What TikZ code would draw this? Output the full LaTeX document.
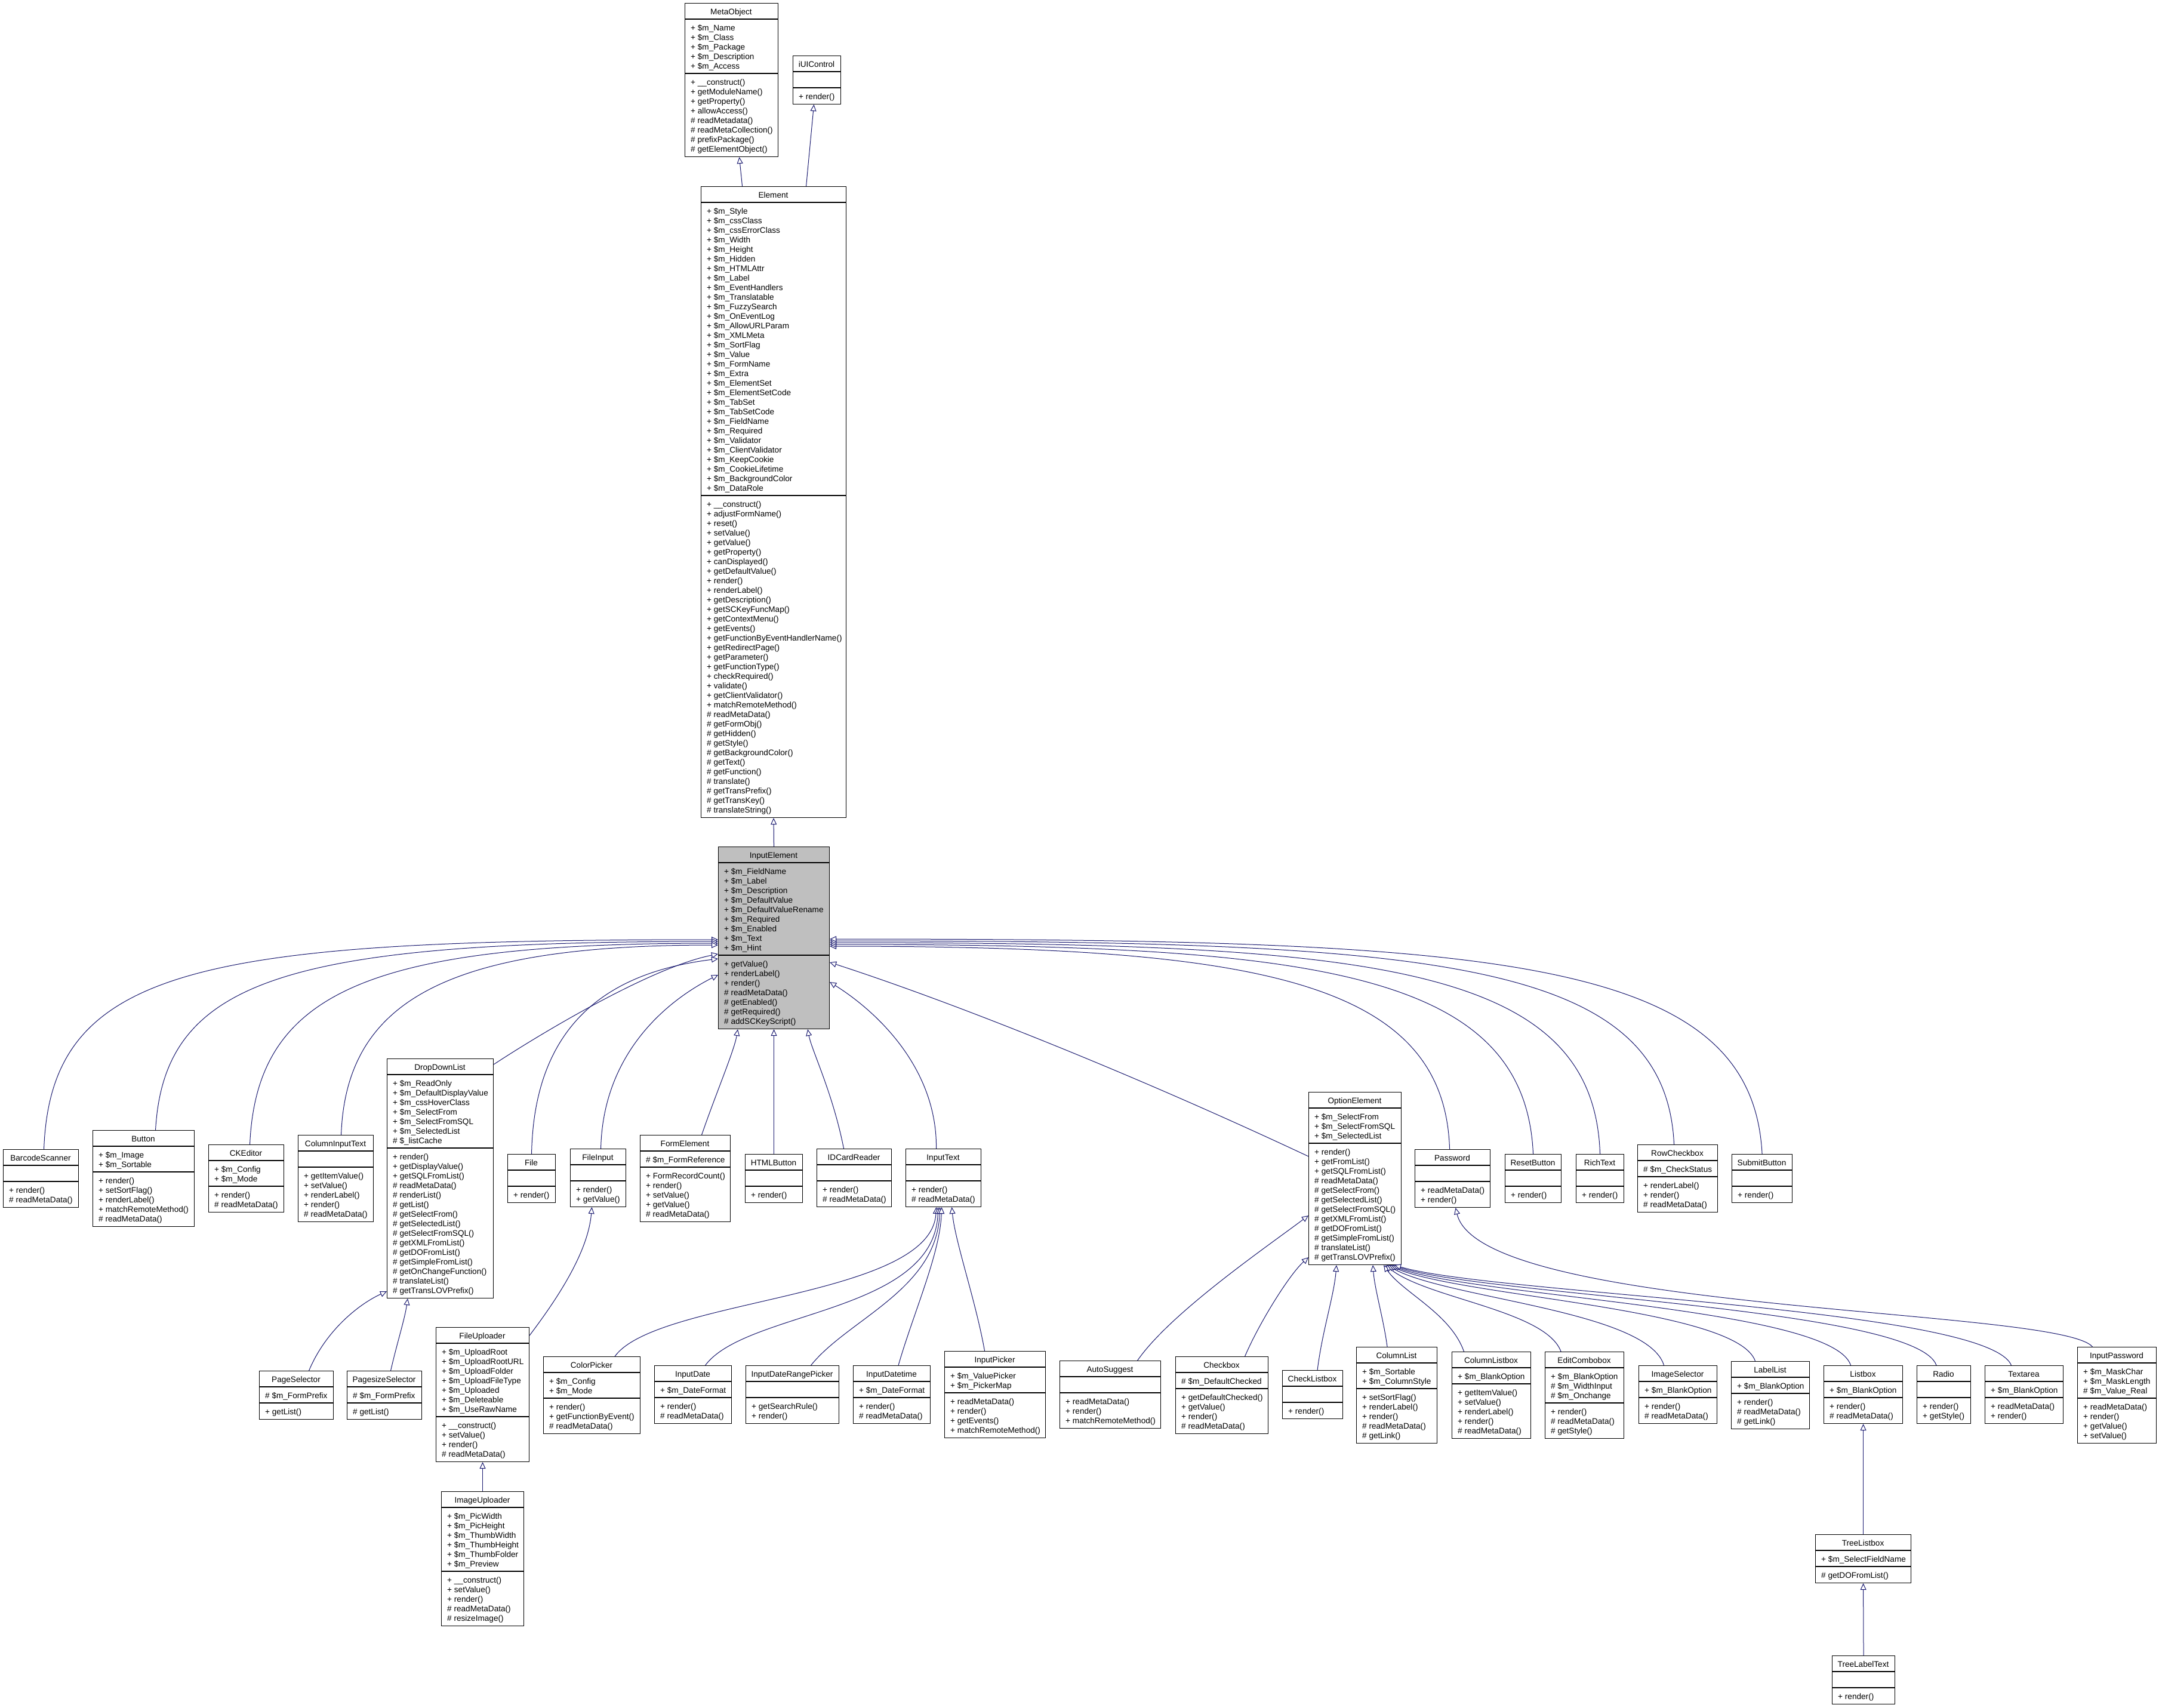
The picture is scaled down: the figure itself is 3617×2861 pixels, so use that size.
\documentclass[tikz,border=0pt]{standalone}
\usepackage{fontspec}
\setmainfont{Liberation Sans}
\usetikzlibrary{arrows.meta}

\definecolor{edgeblue}{HTML}{191970}
\definecolor{basegray}{HTML}{BFBFBF}

\newcommand\umlfont{\fontsize{13.6}{16}\selectfont}

\tikzset{
  classbox/.style={draw=black, line width=1.1pt, inner sep=0pt, rectangle},
  classline/.style={draw=black, line width=1.1pt},
  classtext/.style={inner sep=0pt, font=\umlfont},
  inherit/.style={draw=edgeblue, line width=1pt,
    -{Triangle[length=11pt,width=10pt,fill=white]}},
}

% number of entries of a comma list (at least one, for the compartment height)
\newcount\umlcnt
\newcommand\umlcount[1]{%
  \global\umlcnt=0
  \if\relax\detokenize{#1}\relax\else
    \foreach \umlitem in {#1}{\global\advance\umlcnt by 1 }%
  \fi
  \ifnum\umlcnt<1 \global\umlcnt=1 \fi}

% class box: [fill]{name}{left}{top}{width}{title}{attributes}{operations}
\newcommand\umlclass[8][white]{%
  \umlcount{#7}\edef\umlna{\the\umlcnt}%
  \umlcount{#8}\edef\umlnm{\the\umlcnt}%
  \pgfmathsetmacro\umlya{#4+27}%
  \pgfmathsetmacro\umlym{#4+38+16*\umlna}%
  \pgfmathsetmacro\umlh{49+16*\umlna+16*\umlnm}%
  \node[classbox,fill=#1,minimum width=#5pt,minimum height=\umlh pt,anchor=north west] (#2) at (#3,#4) {};
  \draw[classline] (#3,\umlya) -- ++(#5,0);
  \draw[classline] (#3,\umlym) -- ++(#5,0);
  \node[classtext,anchor=base] (#2-name) at ({#3+#5/2},{#4+19.5}) {#6};
  \if\relax\detokenize{#7}\relax\else
    \foreach \umlitem [count=\umli from 0] in {#7}{%
      \node[classtext,anchor=base west] (#2-a\umli) at ({#3+10},{\umlya+19.5+16*\umli}) {\umlitem};}%
  \fi
  \if\relax\detokenize{#8}\relax\else
    \foreach \umlitem [count=\umli from 0] in {#8}{%
      \node[classtext,anchor=base west] (#2-o\umli) at ({#3+10},{\umlym+19.5+16*\umli}) {\umlitem};}%
  \fi
}

\begin{document}
\begin{tikzpicture}[x=1pt,y=-1pt]
\fill[white] (0,0) rectangle (3617,2861);
\useasboundingbox (0,0) rectangle (3617,2861);

% ---------- base classes ----------
\umlclass{mo}{1147}{5}{156}{MetaObject}
 {+ \$m\_Name,+ \$m\_Class,+ \$m\_Package,+ \$m\_Description,+ \$m\_Access}
 {+ \_\_construct(),+ getModuleName(),+ getProperty(),+ allowAccess(),\# readMetadata(),\# readMetaCollection(),\# prefixPackage(),\# getElementObject()}
\umlclass{uic}{1328}{93}{80}{iUIControl}{}{+ render()}

\umlclass{el}{1174}{312}{243}{Element}
 {+ \$m\_Style,+ \$m\_cssClass,+ \$m\_cssErrorClass,+ \$m\_Width,+ \$m\_Height,+ \$m\_Hidden,+ \$m\_HTMLAttr,+ \$m\_Label,+ \$m\_EventHandlers,+ \$m\_Translatable,+ \$m\_FuzzySearch,+ \$m\_OnEventLog,+ \$m\_AllowURLParam,+ \$m\_XMLMeta,+ \$m\_SortFlag,+ \$m\_Value,+ \$m\_FormName,+ \$m\_Extra,+ \$m\_ElementSet,+ \$m\_ElementSetCode,+ \$m\_TabSet,+ \$m\_TabSetCode,+ \$m\_FieldName,+ \$m\_Required,+ \$m\_Validator,+ \$m\_ClientValidator,+ \$m\_KeepCookie,+ \$m\_CookieLifetime,+ \$m\_BackgroundColor,+ \$m\_DataRole}
 {+ \_\_construct(),+ adjustFormName(),+ reset(),+ setValue(),+ getValue(),+ getProperty(),+ canDisplayed(),+ getDefaultValue(),+ render(),+ renderLabel(),+ getDescription(),+ getSCKeyFuncMap(),+ getContextMenu(),+ getEvents(),+ getFunctionByEventHandlerName(),+ getRedirectPage(),+ getParameter(),+ getFunctionType(),+ checkRequired(),+ validate(),+ getClientValidator(),+ matchRemoteMethod(),\# readMetaData(),\# getFormObj(),\# getHidden(),\# getStyle(),\# getBackgroundColor(),\# getText(),\# getFunction(),\# translate(),\# getTransPrefix(),\# getTransKey(),\# translateString()}

\umlclass[basegray]{ie}{1203}{1418}{186}{InputElement}
 {+ \$m\_FieldName,+ \$m\_Label,+ \$m\_Description,+ \$m\_DefaultValue,+ \$m\_DefaultValueRename,+ \$m\_Required,+ \$m\_Enabled,+ \$m\_Text,+ \$m\_Hint}
 {+ getValue(),+ renderLabel(),+ render(),\# readMetaData(),\# getEnabled(),\# getRequired(),\# addSCKeyScript()}

% ---------- direct subclasses of InputElement ----------
\umlclass{bs}{5}{1925}{126}{BarcodeScanner}{}{+ render(),\# readMetaData()}
\umlclass{btn}{155}{1893}{170}{Button}{+ \$m\_Image,+ \$m\_Sortable}
 {+ render(),+ setSortFlag(),+ renderLabel(),+ matchRemoteMethod(),\# readMetaData()}
\umlclass{cke}{349}{1917}{126}{CKEditor}{+ \$m\_Config,+ \$m\_Mode}{+ render(),\# readMetaData()}
\umlclass{cit}{499}{1901}{126}{ColumnInputText}{}
 {+ getItemValue(),+ setValue(),+ renderLabel(),+ render(),\# readMetaData()}
\umlclass{ddl}{648}{1773}{178}{DropDownList}
 {+ \$m\_ReadOnly,+ \$m\_DefaultDisplayValue,+ \$m\_cssHoverClass,+ \$m\_SelectFrom,+ \$m\_SelectFromSQL,+ \$m\_SelectedList,\# \$\_listCache}
 {+ render(),+ getDisplayValue(),+ getSQLFromList(),\# readMetaData(),\# renderList(),\# getList(),\# getSelectFrom(),\# getSelectedList(),\# getSelectFromSQL(),\# getXMLFromList(),\# getDOFromList(),\# getSimpleFromList(),\# getOnChangeFunction(),\# translateList(),\# getTransLOVPrefix()}
\umlclass{file}{850}{1933}{80}{File}{}{+ render()}
\umlclass{fin}{955}{1924}{93}{FileInput}{}{+ render(),+ getValue()}
\umlclass{fe}{1072}{1901}{151}{FormElement}{\# \$m\_FormReference}
 {+ FormRecordCount(),+ render(),+ setValue(),+ getValue(),\# readMetaData()}
\umlclass{htb}{1248}{1933}{96}{HTMLButton}{}{+ render()}
\umlclass{idc}{1368}{1924}{125}{IDCardReader}{}{+ render(),\# readMetaData()}
\umlclass{it}{1517}{1924}{126}{InputText}{}{+ render(),\# readMetaData()}
\umlclass{oe}{2192}{1829}{155}{OptionElement}
 {+ \$m\_SelectFrom,+ \$m\_SelectFromSQL,+ \$m\_SelectedList}
 {+ render(),+ getFromList(),+ getSQLFromList(),\# readMetaData(),\# getSelectFrom(),\# getSelectedList(),\# getSelectFromSQL(),\# getXMLFromList(),\# getDOFromList(),\# getSimpleFromList(),\# translateList(),\# getTransLOVPrefix()}
\umlclass{pw}{2370}{1925}{126}{Password}{}{+ readMetaData(),+ render()}
\umlclass{rb}{2521}{1933}{94}{ResetButton}{}{+ render()}
\umlclass{rt}{2640}{1933}{80}{RichText}{}{+ render()}
\umlclass{rc}{2743}{1917}{134}{RowCheckbox}{\# \$m\_CheckStatus}
 {+ renderLabel(),+ render(),\# readMetaData()}
\umlclass{sb}{2901}{1933}{101}{SubmitButton}{}{+ render()}

% ---------- second level ----------
\umlclass{ps}{434}{2296}{124}{PageSelector}{\# \$m\_FormPrefix}{+ getList()}
\umlclass{pss}{581}{2296}{125}{PagesizeSelector}{\# \$m\_FormPrefix}{\# getList()}
\umlclass{fu}{730}{2223}{156}{FileUploader}
 {+ \$m\_UploadRoot,+ \$m\_UploadRootURL,+ \$m\_UploadFolder,+ \$m\_UploadFileType,+ \$m\_Uploaded,+ \$m\_Deleteable,+ \$m\_UseRawName}
 {+ \_\_construct(),+ setValue(),+ render(),\# readMetaData()}
\umlclass{iu}{739}{2498}{138}{ImageUploader}
 {+ \$m\_PicWidth,+ \$m\_PicHeight,+ \$m\_ThumbWidth,+ \$m\_ThumbHeight,+ \$m\_ThumbFolder,+ \$m\_Preview}
 {+ \_\_construct(),+ setValue(),+ render(),\# readMetaData(),\# resizeImage()}
\umlclass{cp}{910}{2272}{162}{ColorPicker}{+ \$m\_Config,+ \$m\_Mode}
 {+ render(),+ getFunctionByEvent(),\# readMetaData()}
\umlclass{idt}{1096}{2287}{129}{InputDate}{+ \$m\_DateFormat}{+ render(),\# readMetaData()}
\umlclass{idrp}{1249}{2287}{156}{InputDateRangePicker}{}{+ getSearchRule(),+ render()}
\umlclass{idtt}{1429}{2287}{129}{InputDatetime}{+ \$m\_DateFormat}{+ render(),\# readMetaData()}
\umlclass{ip}{1582}{2263}{169}{InputPicker}{+ \$m\_ValuePicker,+ \$m\_PickerMap}
 {+ readMetaData(),+ render(),+ getEvents(),+ matchRemoteMethod()}
\umlclass{as}{1775}{2279}{169}{AutoSuggest}{}{+ readMetaData(),+ render(),+ matchRemoteMethod()}
\umlclass{cb}{1969}{2272}{155}{Checkbox}{\# \$m\_DefaultChecked}
 {+ getDefaultChecked(),+ getValue(),+ render(),\# readMetaData()}
\umlclass{clb}{2148}{2295}{101}{CheckListbox}{}{+ render()}
\umlclass{cl}{2272}{2256}{135}{ColumnList}{+ \$m\_Sortable,+ \$m\_ColumnStyle}
 {+ setSortFlag(),+ renderLabel(),+ render(),\# readMetaData(),\# getLink()}
\umlclass{clbx}{2432}{2264}{132}{ColumnListbox}{+ \$m\_BlankOption}
 {+ getItemValue(),+ setValue(),+ renderLabel(),+ render(),\# readMetaData()}
\umlclass{ecb}{2588}{2264}{132}{EditCombobox}{+ \$m\_BlankOption,\# \$m\_WidthInput,\# \$m\_Onchange}
 {+ render(),\# readMetaData(),\# getStyle()}
\umlclass{isel}{2745}{2287}{131}{ImageSelector}{+ \$m\_BlankOption}{+ render(),\# readMetaData()}
\umlclass{ll}{2900}{2280}{131}{LabelList}{+ \$m\_BlankOption}{+ render(),\# readMetaData(),\# getLink()}
\umlclass{lb}{3055}{2287}{132}{Listbox}{+ \$m\_BlankOption}{+ render(),\# readMetaData()}
\umlclass{rad}{3211}{2287}{90}{Radio}{}{+ render(),+ getStyle()}
\umlclass{ta}{3325}{2287}{131}{Textarea}{+ \$m\_BlankOption}{+ readMetaData(),+ render()}
\umlclass{ipw}{3480}{2256}{132}{InputPassword}{+ \$m\_MaskChar,+ \$m\_MaskLength,\# \$m\_Value\_Real}
 {+ readMetaData(),+ render(),+ getValue(),+ setValue()}
\umlclass{tlb}{3041}{2570}{160}{TreeListbox}{+ \$m\_SelectFieldName}{\# getDOFromList()}
\umlclass{tlt}{3069}{2773}{105}{TreeLabelText}{}{+ render()}

% ---------- generalisation arrows ----------
\draw[inherit] ([xshift=-52.5pt]el.north) -- ([xshift=13pt]mo.south);
\draw[inherit] ([xshift=54.5pt]el.north) -- ([xshift=-5pt]uic.south);
\draw[inherit] (ie.north) -- (el.south);

% left side of InputElement
\draw[inherit] ([xshift=5pt]bs.north) .. controls (85,1620) and (330,1574) .. ([yshift=-156pt]ie.north west);
\draw[inherit] ([xshift=20pt]btn.north) .. controls (275,1640) and (480,1577) .. ([yshift=-159pt]ie.north west);
\draw[inherit] ([xshift=6pt]cke.north) .. controls (430,1660) and (620,1580) .. ([yshift=-162pt]ie.north west);
\draw[inherit] ([xshift=9pt]cit.north) .. controls (580,1670) and (760,1583) .. ([yshift=-165pt]ie.north west);
\draw[inherit] ([yshift=-10pt]ddl.north east) .. controls (900,1735) and (1090,1620) .. ([yshift=-180pt]ie.north west);
\draw[inherit] (file.north) .. controls (895,1690) and (1050,1625) .. ([yshift=-188pt]ie.north west);
\draw[inherit] ([xshift=4.5pt]fin.north) .. controls (1010,1770) and (1110,1680) .. ([yshift=-215pt]ie.north west);

% bottom of InputElement
\draw[inherit] ([xshift=27.5pt]fe.north) .. controls (1200,1830) and (1230,1760) .. ([xshift=33pt]ie.south west);
\draw[inherit] (htb.north) -- (ie.south);
\draw[inherit] ([xshift=-17.5pt]idc.north) .. controls (1395,1830) and (1360,1760) .. ([xshift=-37pt]ie.south east);

% right side of InputElement
\draw[inherit] ([xshift=-12pt]it.north) .. controls (1570,1790) and (1470,1695) .. ([yshift=-227pt]ie.north east);
\draw[inherit] ([yshift=-108pt]oe.north west) .. controls (1900,1800) and (1600,1680) .. ([yshift=-194pt]ie.north east);
\draw[inherit] ([xshift=-5pt]pw.north) .. controls (2420,1640) and (2100,1585) .. ([yshift=-167pt]ie.north east);
\draw[inherit] (rb.north) .. controls (2555,1625) and (2200,1582) .. ([yshift=-164pt]ie.north east);
\draw[inherit] (rt.north) .. controls (2670,1615) and (2300,1579) .. ([yshift=-161pt]ie.north east);
\draw[inherit] ([xshift=-6pt]rc.north) .. controls (2790,1605) and (2400,1576) .. ([yshift=-158pt]ie.north east);
\draw[inherit] (sb.north) .. controls (2935,1600) and (2500,1573) .. ([yshift=-155pt]ie.north east);

% DropDownList and FileInput families
\draw[inherit] ([xshift=21pt]ps.north) .. controls (545,2230) and (600,2185) .. ([yshift=12pt]ddl.south west);
\draw[inherit] ([xshift=10.5pt]pss.north) .. controls (665,2250) and (678,2210) .. ([xshift=35pt]ddl.south west);
\draw[inherit] ([yshift=-14pt]fu.north east) .. controls (930,2180) and (985,2100) .. ([xshift=-10.5pt]fin.south);
\draw[inherit] (iu.north) -- (fu.south);

% InputText family
\draw[inherit] ([xshift=38.5pt]cp.north) .. controls (1100,2175) and (1560,2175) .. ([xshift=-12pt]it.south);
\draw[inherit] ([xshift=20.5pt]idt.north) .. controls (1250,2195) and (1566,2200) .. ([xshift=-9pt]it.south);
\draw[inherit] ([xshift=31pt]idrp.north) .. controls (1420,2210) and (1570,2160) .. ([xshift=-6pt]it.south);
\draw[inherit] ([xshift=11pt]idtt.north) .. controls (1530,2200) and (1575,2100) .. ([xshift=-3pt]it.south);
\draw[inherit] ([xshift=-17.5pt]ip.north) .. controls (1635,2180) and (1600,2080) .. ([xshift=14pt]it.south);

% OptionElement family
\draw[inherit] ([xshift=45.5pt]as.north) .. controls (1960,2200) and (2120,2090) .. ([yshift=83pt]oe.south west);
\draw[inherit] ([xshift=38.5pt]cb.north) .. controls (2110,2215) and (2160,2135) .. ([yshift=13pt]oe.south west);
\draw[inherit] ([xshift=8pt]clb.north) .. controls (2215,2230) and (2235,2170) .. ([xshift=47pt]oe.south west);
\draw[inherit] ([xshift=-16pt]cl.north) .. controls (2318,2210) and (2303,2160) .. ([xshift=108pt]oe.south west);
\draw[inherit] ([xshift=-46pt]clbx.north) .. controls (2430,2200) and (2350,2165) .. ([xshift=126pt]oe.south west);
\draw[inherit] ([xshift=-39.5pt]ecb.north) .. controls (2590,2195) and (2390,2175) .. ([xshift=129pt]oe.south west);
\draw[inherit] ([xshift=-23.5pt]isel.north) .. controls (2760,2195) and (2420,2175) .. ([xshift=132pt]oe.south west);
\draw[inherit] ([xshift=-25.5pt]ll.north) .. controls (2910,2190) and (2440,2172) .. ([xshift=135pt]oe.south west);
\draw[inherit] ([xshift=-21pt]lb.north) .. controls (3070,2190) and (2460,2172) .. ([xshift=138pt]oe.south west);
\draw[inherit] ([xshift=-12.5pt]rad.north) .. controls (3210,2190) and (2480,2170) .. ([xshift=141pt]oe.south west);
\draw[inherit] ([xshift=-21.5pt]ta.north) .. controls (3330,2190) and (2500,2168) .. ([xshift=144pt]oe.south west);

% Password, Listbox families
\draw[inherit] ([xshift=-41pt]ipw.north) .. controls (3450,2190) and (2480,2200) .. ([xshift=5pt]pw.south);
\draw[inherit] (tlb.north) -- (lb.south);
\draw[inherit] (tlt.north) -- (tlb.south);
\end{tikzpicture}
\end{document}
